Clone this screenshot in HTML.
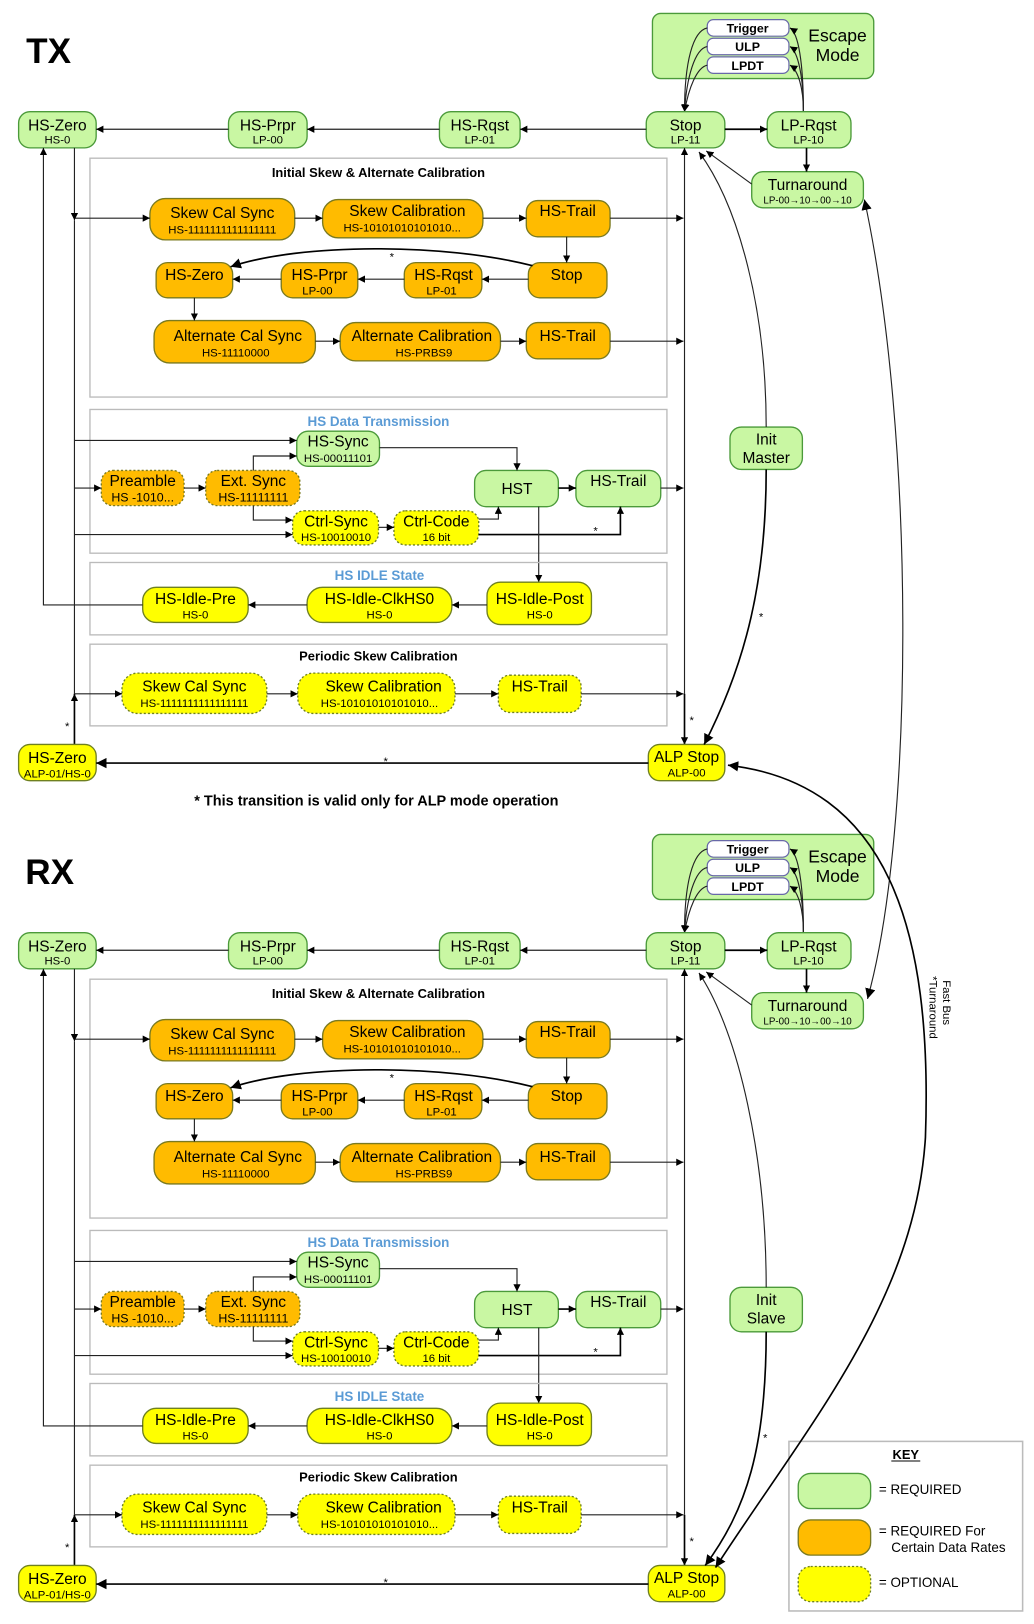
<!DOCTYPE html>
<html><head><meta charset="utf-8"><style>
html,body{margin:0;padding:0;background:#fff}
svg{display:block}
text{font-family:"Liberation Sans",Arial,sans-serif;text-anchor:middle;fill:#000}
.g{fill:#c9f7a3;stroke:#4b9a3a;stroke-width:1.3}
.o{fill:#ffbb00;stroke:#7a7a20;stroke-width:1.3}
.y{fill:#ffff00;stroke:#6f8020;stroke-width:1.3}
.d{stroke-dasharray:2,2}
.bx{fill:none;stroke:#bbb;stroke-width:1.3}
.l{fill:none;stroke:#222;stroke-width:1.1}
.lb{fill:none;stroke:#000;stroke-width:1.6}
.t{font-size:15px}
.s{font-size:11px}
.h{font-size:12.5px;font-weight:bold}
.bl{font-size:13px;font-weight:bold;fill:#5b9bd5}
.w{fill:#fff;stroke:#6868a8;stroke-width:1.2}
.wt{font-size:12px;font-weight:bold}
</style></head><body>
<svg width="1034" height="1624" viewBox="0 0 1000 1570.6" preserveAspectRatio="none" xmlns="http://www.w3.org/2000/svg">
<defs>
<marker id="a" viewBox="0 0 10 10" refX="10" refY="5" markerWidth="7" markerHeight="7" orient="auto-start-reverse" markerUnits="userSpaceOnUse"><path d="M0,0L10,5L0,10z" fill="#000"/></marker>
<marker id="A" viewBox="0 0 10 10" refX="10" refY="5" markerWidth="10" markerHeight="10" orient="auto-start-reverse" markerUnits="userSpaceOnUse"><path d="M0,0L10,5L0,10z" fill="#000"/></marker>
</defs>

<!-- ================= TX ================= -->
<g>
<text x="47" y="61" style="font-size:34px;font-weight:bold">TX</text>
<rect x="631" y="13" width="214" height="63" rx="8" class="g"/>
<rect x="684" y="19" width="79" height="16" rx="6" class="w"/><text x="723" y="31.5" class="wt">Trigger</text>
<rect x="684" y="37" width="79" height="16" rx="6" class="w"/><text x="723" y="49.5" class="wt">ULP</text>
<rect x="684" y="55" width="79" height="16" rx="6" class="w"/><text x="723" y="67.5" class="wt">LPDT</text>
<text x="810" y="40" style="font-size:17px">Escape</text><text x="810" y="59" style="font-size:17px">Mode</text>
<path d="M684,27 C670,30 662,60 662,108" class="l" marker-end="url(#a)"/>
<path d="M684,45 C672,47 664,75 662,108" class="l" marker-end="url(#a)"/>
<path d="M684,63 C674,65 666,85 662,108" class="l" marker-end="url(#a)"/>
<path d="M777,108 C777,60 772,32 764,27" class="l" marker-end="url(#a)"/>
<path d="M777,108 C777,75 772,50 764,45" class="l" marker-end="url(#a)"/>
<path d="M777,108 C777,85 772,68 764,63" class="l" marker-end="url(#a)"/>

<rect x="18" y="108" width="75" height="35" rx="11" class="g"/><text x="55.5" y="126" class="t">HS-Zero</text><text x="55.5" y="139" class="s">HS-0</text>
<rect x="221" y="108" width="76" height="35" rx="11" class="g"/><text x="259" y="126" class="t">HS-Prpr</text><text x="259" y="139" class="s">LP-00</text>
<rect x="425" y="108" width="78" height="35" rx="11" class="g"/><text x="464" y="126" class="t">HS-Rqst</text><text x="464" y="139" class="s">LP-01</text>
<rect x="625" y="108" width="76" height="35" rx="11" class="g"/><text x="663" y="126" class="t">Stop</text><text x="663" y="139" class="s">LP-11</text>
<rect x="742" y="108" width="81" height="35" rx="11" class="g"/><text x="782" y="126" class="t">LP-Rqst</text><text x="782" y="139" class="s">LP-10</text>
<rect x="727" y="166" width="108" height="35" rx="11" class="g"/><text x="781" y="184" class="t">Turnaround</text><text x="781" y="197" style="font-size:9.5px">LP-00→10→00→10</text>
<line x1="625" y1="125" x2="503" y2="125" class="l" marker-end="url(#a)"/>
<line x1="425" y1="125" x2="297" y2="125" class="l" marker-end="url(#a)"/>
<line x1="221" y1="125" x2="93" y2="125" class="l" marker-end="url(#a)"/>
<line x1="701" y1="125" x2="742" y2="125" class="lb" marker-end="url(#a)"/>
<line x1="780" y1="143" x2="780" y2="166" class="lb" marker-end="url(#a)"/>
<line x1="727" y1="178" x2="683" y2="146" class="l" marker-end="url(#a)"/>

<rect x="87" y="153" width="558" height="231" class="bx"/>
<text x="366" y="171" class="h">Initial Skew &amp; Alternate Calibration</text>
<rect x="145" y="192" width="140" height="40" rx="15" class="o"/><text x="215" y="211" class="t">Skew Cal Sync</text><text x="215" y="226" class="s">HS-1111111111111111</text>
<rect x="312" y="193" width="155" height="37" rx="15" class="o"/><text x="394" y="209" class="t">Skew Calibration</text><text x="389" y="224" class="s">HS-10101010101010...</text>
<rect x="509" y="194" width="81" height="35" rx="11" class="o"/><text x="549" y="209" class="t">HS-Trail</text>
<rect x="151" y="254" width="74" height="34" rx="11" class="o"/><text x="188" y="271" class="t">HS-Zero</text>
<rect x="272" y="254" width="74" height="34" rx="11" class="o"/><text x="309" y="271" class="t">HS-Prpr</text><text x="307" y="285" class="s">LP-00</text>
<rect x="391" y="254" width="75" height="34" rx="11" class="o"/><text x="429" y="271" class="t">HS-Rqst</text><text x="427" y="285" class="s">LP-01</text>
<rect x="511" y="254" width="76" height="34" rx="11" class="o"/><text x="548" y="271" class="t">Stop</text>
<rect x="149" y="310" width="156" height="41" rx="15" class="o"/><text x="230" y="330" class="t">Alternate Cal Sync</text><text x="228" y="345" class="s">HS-11110000</text>
<rect x="329" y="312" width="155" height="37" rx="15" class="o"/><text x="408" y="330" class="t">Alternate Calibration</text><text x="410" y="345" class="s">HS-PRBS9</text>
<rect x="509" y="312" width="81" height="35" rx="11" class="o"/><text x="549" y="330" class="t">HS-Trail</text>
<line x1="72" y1="211" x2="145" y2="211" class="l" marker-end="url(#a)"/>
<line x1="285" y1="211" x2="312" y2="211" class="l" marker-end="url(#a)"/>
<line x1="467" y1="211" x2="509" y2="211" class="l" marker-end="url(#a)"/>
<line x1="590" y1="211" x2="661" y2="211" class="l" marker-end="url(#a)"/>
<line x1="548" y1="229" x2="548" y2="254" class="l" marker-end="url(#a)"/>
<line x1="511" y1="270" x2="466" y2="270" class="l" marker-end="url(#a)"/>
<line x1="391" y1="270" x2="346" y2="270" class="l" marker-end="url(#a)"/>
<line x1="272" y1="270" x2="225" y2="270" class="l" marker-end="url(#a)"/>
<path d="M515,257 C430,235 290,235 223,258" class="lb" marker-end="url(#A)"/>
<text x="379" y="252" class="s">*</text>
<line x1="188" y1="288" x2="188" y2="310" class="l" marker-end="url(#a)"/>
<line x1="305" y1="330" x2="329" y2="330" class="l" marker-end="url(#a)"/>
<line x1="484" y1="330" x2="509" y2="330" class="l" marker-end="url(#a)"/>
<line x1="590" y1="330" x2="661" y2="330" class="l" marker-end="url(#a)"/>

<rect x="87" y="396" width="558" height="139" class="bx"/>
<text x="366" y="412" class="bl">HS Data Transmission</text>
<rect x="287" y="417" width="80" height="34" rx="11" class="g"/><text x="327" y="432" class="t">HS-Sync</text><text x="327" y="447" class="s">HS-00011101</text>
<rect x="98" y="455" width="80" height="34" rx="11" class="o d"/><text x="138" y="470" class="t">Preamble</text><text x="138" y="485" class="s" style="font-size:12px">HS -1010...</text>
<rect x="199" y="455" width="91" height="34" rx="11" class="o d"/><text x="245" y="470" class="t">Ext. Sync</text><text x="245" y="485" class="s" style="font-size:12px">HS-11111111</text>
<rect x="459" y="455" width="81" height="35" rx="11" class="g"/><text x="500" y="478" class="t">HST</text>
<rect x="557" y="455" width="82" height="35" rx="11" class="g"/><text x="598" y="470" class="t">HS-Trail</text>
<rect x="283" y="494" width="83" height="33" rx="11" class="y d"/><text x="325" y="509" class="t">Ctrl-Sync</text><text x="325" y="523" class="s">HS-10010010</text>
<rect x="381" y="494" width="82" height="33" rx="11" class="y d"/><text x="422" y="509" class="t">Ctrl-Code</text><text x="422" y="523" class="s">16 bit</text>
<line x1="72" y1="426" x2="287" y2="426" class="l" marker-end="url(#a)"/>
<line x1="72" y1="472" x2="98" y2="472" class="l" marker-end="url(#a)"/>
<line x1="178" y1="472" x2="199" y2="472" class="l" marker-end="url(#a)"/>
<polyline points="245,455 245,441 287,441" class="l" marker-end="url(#a)"/>
<polyline points="245,489 245,503 283,503" class="l" marker-end="url(#a)"/>
<line x1="72" y1="517" x2="283" y2="517" class="l" marker-end="url(#a)"/>
<line x1="366" y1="510" x2="381" y2="510" class="l" marker-end="url(#a)"/>
<polyline points="463,502 482,502 482,490" class="l" marker-end="url(#a)"/>
<polyline points="367,433 500,433 500,455" class="l" marker-end="url(#a)"/>
<line x1="540" y1="472" x2="557" y2="472" class="lb" marker-end="url(#a)"/>
<polyline points="463,517 600,517 600,490" class="lb" marker-end="url(#a)"/>
<text x="576" y="517" class="s">*</text>
<line x1="639" y1="472" x2="661" y2="472" class="l" marker-end="url(#a)"/>
<line x1="521" y1="490" x2="521" y2="563" class="l" marker-end="url(#a)"/>

<rect x="87" y="544" width="558" height="70" class="bx"/>
<text x="367" y="561" class="bl">HS IDLE State</text>
<rect x="138" y="568" width="102" height="34" rx="13" class="y"/><text x="189" y="584" class="t">HS-Idle-Pre</text><text x="189" y="598" class="s">HS-0</text>
<rect x="297" y="568" width="140" height="34" rx="15" class="y"/><text x="367" y="584" class="t">HS-Idle-ClkHS0</text><text x="367" y="598" class="s">HS-0</text>
<rect x="471" y="563" width="101" height="41" rx="13" class="y"/><text x="522" y="584" class="t">HS-Idle-Post</text><text x="522" y="598" class="s">HS-0</text>
<line x1="471" y1="585" x2="437" y2="585" class="l" marker-end="url(#a)"/>
<line x1="297" y1="585" x2="240" y2="585" class="l" marker-end="url(#a)"/>
<polyline points="138,585 42,585 42,143" class="l" marker-end="url(#a)"/>

<rect x="87" y="623" width="558" height="79" class="bx"/>
<text x="366" y="639" class="h">Periodic Skew Calibration</text>
<rect x="118" y="651" width="140" height="39" rx="15" class="y d"/><text x="188" y="669" class="t">Skew Cal Sync</text><text x="188" y="684" class="s">HS-1111111111111111</text>
<rect x="288" y="651" width="152" height="39" rx="15" class="y d"/><text x="371" y="669" class="t">Skew Calibration</text><text x="367" y="684" class="s">HS-10101010101010...</text>
<rect x="482" y="653" width="80" height="36" rx="11" class="y d"/><text x="522" y="669" class="t">HS-Trail</text>
<line x1="72" y1="671" x2="118" y2="671" class="l" marker-end="url(#a)"/>
<line x1="258" y1="671" x2="288" y2="671" class="l" marker-end="url(#a)"/>
<line x1="440" y1="671" x2="482" y2="671" class="l" marker-end="url(#a)"/>
<line x1="562" y1="671" x2="661" y2="671" class="l" marker-end="url(#a)"/>

<line x1="72" y1="143" x2="72" y2="213" class="l" marker-end="url(#a)"/>
<line x1="72" y1="213" x2="72" y2="671" class="l"/>
<line x1="72" y1="720" x2="72" y2="671" class="lb" marker-end="url(#a)"/>
<text x="65" y="706" class="s">*</text>
<line x1="662" y1="671" x2="662" y2="143" class="l" marker-end="url(#a)"/>
<line x1="662" y1="671" x2="662" y2="720" class="lb" marker-end="url(#a)"/>
<text x="669" y="700" class="s">*</text>

<rect x="18" y="720" width="75" height="35" rx="11" class="y"/><text x="55.5" y="738" class="t">HS-Zero</text><text x="55.5" y="752" class="s">ALP-01/HS-0</text>
<rect x="627" y="720" width="74" height="35" rx="11" class="y"/><text x="664" y="737" class="t">ALP Stop</text><text x="664" y="751" class="s">ALP-00</text>
<line x1="627" y1="738" x2="93" y2="738" class="lb" marker-end="url(#A)"/>
<text x="373" y="740" class="s">*</text>
</g>

<text x="364" y="779" style="font-size:14px;font-weight:bold">* This transition is valid only for ALP mode operation</text>

<rect x="706" y="413" width="70" height="41" rx="11" class="g"/><text x="741" y="430" class="t">Init</text><text x="741" y="448" class="t">Master</text>
<path d="M741,413 C741,300 715,200 676,147" class="l" marker-end="url(#a)"/>
<path d="M741,454 C741,560 722,640 681,720" class="lb" marker-end="url(#A)"/>
<text x="736" y="600" class="s">*</text>

<!-- ================= RX ================= -->
<g transform="translate(0,794)">
<text x="48" y="61" style="font-size:34px;font-weight:bold">RX</text>
<rect x="631" y="13" width="214" height="63" rx="8" class="g"/>
<rect x="684" y="19" width="79" height="16" rx="6" class="w"/><text x="723" y="31.5" class="wt">Trigger</text>
<rect x="684" y="37" width="79" height="16" rx="6" class="w"/><text x="723" y="49.5" class="wt">ULP</text>
<rect x="684" y="55" width="79" height="16" rx="6" class="w"/><text x="723" y="67.5" class="wt">LPDT</text>
<text x="810" y="40" style="font-size:17px">Escape</text><text x="810" y="59" style="font-size:17px">Mode</text>
<path d="M684,27 C670,30 662,60 662,108" class="l" marker-end="url(#a)"/>
<path d="M684,45 C672,47 664,75 662,108" class="l" marker-end="url(#a)"/>
<path d="M684,63 C674,65 666,85 662,108" class="l" marker-end="url(#a)"/>
<path d="M777,108 C777,60 772,32 764,27" class="l" marker-end="url(#a)"/>
<path d="M777,108 C777,75 772,50 764,45" class="l" marker-end="url(#a)"/>
<path d="M777,108 C777,85 772,68 764,63" class="l" marker-end="url(#a)"/>

<rect x="18" y="108" width="75" height="35" rx="11" class="g"/><text x="55.5" y="126" class="t">HS-Zero</text><text x="55.5" y="139" class="s">HS-0</text>
<rect x="221" y="108" width="76" height="35" rx="11" class="g"/><text x="259" y="126" class="t">HS-Prpr</text><text x="259" y="139" class="s">LP-00</text>
<rect x="425" y="108" width="78" height="35" rx="11" class="g"/><text x="464" y="126" class="t">HS-Rqst</text><text x="464" y="139" class="s">LP-01</text>
<rect x="625" y="108" width="76" height="35" rx="11" class="g"/><text x="663" y="126" class="t">Stop</text><text x="663" y="139" class="s">LP-11</text>
<rect x="742" y="108" width="81" height="35" rx="11" class="g"/><text x="782" y="126" class="t">LP-Rqst</text><text x="782" y="139" class="s">LP-10</text>
<rect x="727" y="166" width="108" height="35" rx="11" class="g"/><text x="781" y="184" class="t">Turnaround</text><text x="781" y="197" style="font-size:9.5px">LP-00→10→00→10</text>
<line x1="625" y1="125" x2="503" y2="125" class="l" marker-end="url(#a)"/>
<line x1="425" y1="125" x2="297" y2="125" class="l" marker-end="url(#a)"/>
<line x1="221" y1="125" x2="93" y2="125" class="l" marker-end="url(#a)"/>
<line x1="701" y1="125" x2="742" y2="125" class="lb" marker-end="url(#a)"/>
<line x1="780" y1="143" x2="780" y2="166" class="lb" marker-end="url(#a)"/>
<line x1="727" y1="178" x2="683" y2="146" class="l" marker-end="url(#a)"/>

<rect x="87" y="153" width="558" height="231" class="bx"/>
<text x="366" y="171" class="h">Initial Skew &amp; Alternate Calibration</text>
<rect x="145" y="192" width="140" height="40" rx="15" class="o"/><text x="215" y="211" class="t">Skew Cal Sync</text><text x="215" y="226" class="s">HS-1111111111111111</text>
<rect x="312" y="193" width="155" height="37" rx="15" class="o"/><text x="394" y="209" class="t">Skew Calibration</text><text x="389" y="224" class="s">HS-10101010101010...</text>
<rect x="509" y="194" width="81" height="35" rx="11" class="o"/><text x="549" y="209" class="t">HS-Trail</text>
<rect x="151" y="254" width="74" height="34" rx="11" class="o"/><text x="188" y="271" class="t">HS-Zero</text>
<rect x="272" y="254" width="74" height="34" rx="11" class="o"/><text x="309" y="271" class="t">HS-Prpr</text><text x="307" y="285" class="s">LP-00</text>
<rect x="391" y="254" width="75" height="34" rx="11" class="o"/><text x="429" y="271" class="t">HS-Rqst</text><text x="427" y="285" class="s">LP-01</text>
<rect x="511" y="254" width="76" height="34" rx="11" class="o"/><text x="548" y="271" class="t">Stop</text>
<rect x="149" y="310" width="156" height="41" rx="15" class="o"/><text x="230" y="330" class="t">Alternate Cal Sync</text><text x="228" y="345" class="s">HS-11110000</text>
<rect x="329" y="312" width="155" height="37" rx="15" class="o"/><text x="408" y="330" class="t">Alternate Calibration</text><text x="410" y="345" class="s">HS-PRBS9</text>
<rect x="509" y="312" width="81" height="35" rx="11" class="o"/><text x="549" y="330" class="t">HS-Trail</text>
<line x1="72" y1="211" x2="145" y2="211" class="l" marker-end="url(#a)"/>
<line x1="285" y1="211" x2="312" y2="211" class="l" marker-end="url(#a)"/>
<line x1="467" y1="211" x2="509" y2="211" class="l" marker-end="url(#a)"/>
<line x1="590" y1="211" x2="661" y2="211" class="l" marker-end="url(#a)"/>
<line x1="548" y1="229" x2="548" y2="254" class="l" marker-end="url(#a)"/>
<line x1="511" y1="270" x2="466" y2="270" class="l" marker-end="url(#a)"/>
<line x1="391" y1="270" x2="346" y2="270" class="l" marker-end="url(#a)"/>
<line x1="272" y1="270" x2="225" y2="270" class="l" marker-end="url(#a)"/>
<path d="M515,257 C430,235 290,235 223,258" class="lb" marker-end="url(#A)"/>
<text x="379" y="252" class="s">*</text>
<line x1="188" y1="288" x2="188" y2="310" class="l" marker-end="url(#a)"/>
<line x1="305" y1="330" x2="329" y2="330" class="l" marker-end="url(#a)"/>
<line x1="484" y1="330" x2="509" y2="330" class="l" marker-end="url(#a)"/>
<line x1="590" y1="330" x2="661" y2="330" class="l" marker-end="url(#a)"/>

<rect x="87" y="396" width="558" height="139" class="bx"/>
<text x="366" y="412" class="bl">HS Data Transmission</text>
<rect x="287" y="417" width="80" height="34" rx="11" class="g"/><text x="327" y="432" class="t">HS-Sync</text><text x="327" y="447" class="s">HS-00011101</text>
<rect x="98" y="455" width="80" height="34" rx="11" class="o d"/><text x="138" y="470" class="t">Preamble</text><text x="138" y="485" class="s" style="font-size:12px">HS -1010...</text>
<rect x="199" y="455" width="91" height="34" rx="11" class="o d"/><text x="245" y="470" class="t">Ext. Sync</text><text x="245" y="485" class="s" style="font-size:12px">HS-11111111</text>
<rect x="459" y="455" width="81" height="35" rx="11" class="g"/><text x="500" y="478" class="t">HST</text>
<rect x="557" y="455" width="82" height="35" rx="11" class="g"/><text x="598" y="470" class="t">HS-Trail</text>
<rect x="283" y="494" width="83" height="33" rx="11" class="y d"/><text x="325" y="509" class="t">Ctrl-Sync</text><text x="325" y="523" class="s">HS-10010010</text>
<rect x="381" y="494" width="82" height="33" rx="11" class="y d"/><text x="422" y="509" class="t">Ctrl-Code</text><text x="422" y="523" class="s">16 bit</text>
<line x1="72" y1="426" x2="287" y2="426" class="l" marker-end="url(#a)"/>
<line x1="72" y1="472" x2="98" y2="472" class="l" marker-end="url(#a)"/>
<line x1="178" y1="472" x2="199" y2="472" class="l" marker-end="url(#a)"/>
<polyline points="245,455 245,441 287,441" class="l" marker-end="url(#a)"/>
<polyline points="245,489 245,503 283,503" class="l" marker-end="url(#a)"/>
<line x1="72" y1="517" x2="283" y2="517" class="l" marker-end="url(#a)"/>
<line x1="366" y1="510" x2="381" y2="510" class="l" marker-end="url(#a)"/>
<polyline points="463,502 482,502 482,490" class="l" marker-end="url(#a)"/>
<polyline points="367,433 500,433 500,455" class="l" marker-end="url(#a)"/>
<line x1="540" y1="472" x2="557" y2="472" class="lb" marker-end="url(#a)"/>
<polyline points="463,517 600,517 600,490" class="lb" marker-end="url(#a)"/>
<text x="576" y="517" class="s">*</text>
<line x1="639" y1="472" x2="661" y2="472" class="l" marker-end="url(#a)"/>
<line x1="521" y1="490" x2="521" y2="563" class="l" marker-end="url(#a)"/>

<rect x="87" y="544" width="558" height="70" class="bx"/>
<text x="367" y="561" class="bl">HS IDLE State</text>
<rect x="138" y="568" width="102" height="34" rx="13" class="y"/><text x="189" y="584" class="t">HS-Idle-Pre</text><text x="189" y="598" class="s">HS-0</text>
<rect x="297" y="568" width="140" height="34" rx="15" class="y"/><text x="367" y="584" class="t">HS-Idle-ClkHS0</text><text x="367" y="598" class="s">HS-0</text>
<rect x="471" y="563" width="101" height="41" rx="13" class="y"/><text x="522" y="584" class="t">HS-Idle-Post</text><text x="522" y="598" class="s">HS-0</text>
<line x1="471" y1="585" x2="437" y2="585" class="l" marker-end="url(#a)"/>
<line x1="297" y1="585" x2="240" y2="585" class="l" marker-end="url(#a)"/>
<polyline points="138,585 42,585 42,143" class="l" marker-end="url(#a)"/>

<rect x="87" y="623" width="558" height="79" class="bx"/>
<text x="366" y="639" class="h">Periodic Skew Calibration</text>
<rect x="118" y="651" width="140" height="39" rx="15" class="y d"/><text x="188" y="669" class="t">Skew Cal Sync</text><text x="188" y="684" class="s">HS-1111111111111111</text>
<rect x="288" y="651" width="152" height="39" rx="15" class="y d"/><text x="371" y="669" class="t">Skew Calibration</text><text x="367" y="684" class="s">HS-10101010101010...</text>
<rect x="482" y="653" width="80" height="36" rx="11" class="y d"/><text x="522" y="669" class="t">HS-Trail</text>
<line x1="72" y1="671" x2="118" y2="671" class="l" marker-end="url(#a)"/>
<line x1="258" y1="671" x2="288" y2="671" class="l" marker-end="url(#a)"/>
<line x1="440" y1="671" x2="482" y2="671" class="l" marker-end="url(#a)"/>
<line x1="562" y1="671" x2="661" y2="671" class="l" marker-end="url(#a)"/>

<line x1="72" y1="143" x2="72" y2="213" class="l" marker-end="url(#a)"/>
<line x1="72" y1="213" x2="72" y2="671" class="l"/>
<line x1="72" y1="720" x2="72" y2="671" class="lb" marker-end="url(#a)"/>
<text x="65" y="706" class="s">*</text>
<line x1="662" y1="671" x2="662" y2="143" class="l" marker-end="url(#a)"/>
<line x1="662" y1="671" x2="662" y2="720" class="lb" marker-end="url(#a)"/>
<text x="669" y="700" class="s">*</text>

<rect x="18" y="720" width="75" height="35" rx="11" class="y"/><text x="55.5" y="738" class="t">HS-Zero</text><text x="55.5" y="752" class="s">ALP-01/HS-0</text>
<rect x="627" y="720" width="74" height="35" rx="11" class="y"/><text x="664" y="737" class="t">ALP Stop</text><text x="664" y="751" class="s">ALP-00</text>
<line x1="627" y1="738" x2="93" y2="738" class="lb" marker-end="url(#A)"/>
<text x="373" y="740" class="s">*</text>
</g>

<rect x="706" y="1245" width="70" height="43" rx="11" class="g"/><text x="741" y="1262" class="t">Init</text><text x="741" y="1280" class="t">Slave</text>
<path d="M741,1245 C741,1120 715,1000 676,941" class="l" marker-end="url(#a)"/>
<path d="M741,1288 C741,1400 722,1460 682,1514" class="lb" marker-end="url(#A)"/>
<text x="740" y="1394" class="s">*</text>

<!-- key -->
<rect x="763" y="1394" width="226" height="164" style="fill:#fff;stroke:#bbb;stroke-width:1.5"/>
<text x="876" y="1411" class="h">KEY</text>
<line x1="862" y1="1413" x2="890" y2="1413" stroke="#000" stroke-width="1"/>
<rect x="772" y="1425" width="70" height="34" rx="12" class="g"/>
<rect x="772" y="1470" width="70" height="34" rx="12" class="o"/>
<rect x="772" y="1515" width="70" height="34" rx="12" class="y d"/>
<text x="850" y="1445" style="font-size:13px;text-anchor:start">= REQUIRED</text>
<text x="850" y="1485" style="font-size:13px;text-anchor:start">= REQUIRED For</text>
<text x="862" y="1501" style="font-size:13px;text-anchor:start">Certain Data Rates</text>
<text x="850" y="1535" style="font-size:13px;text-anchor:start">= OPTIONAL</text>

<!-- cross connections -->
<path d="M836,193 C885,420 885,800 839,966" class="l" marker-start="url(#A)" marker-end="url(#A)"/>
<path d="M704,740 C860,758 902,900 895,1100 C885,1260 780,1380 692,1516" class="lb" marker-start="url(#A)" marker-end="url(#A)"/>
<g transform="translate(912,948) rotate(90)"><text x="0" y="0" class="s" style="text-anchor:start">Fast Bus</text></g>
<g transform="translate(899,944) rotate(90)"><text x="0" y="0" class="s" style="text-anchor:start">*Turnaround</text></g>
</svg>
</body></html>
